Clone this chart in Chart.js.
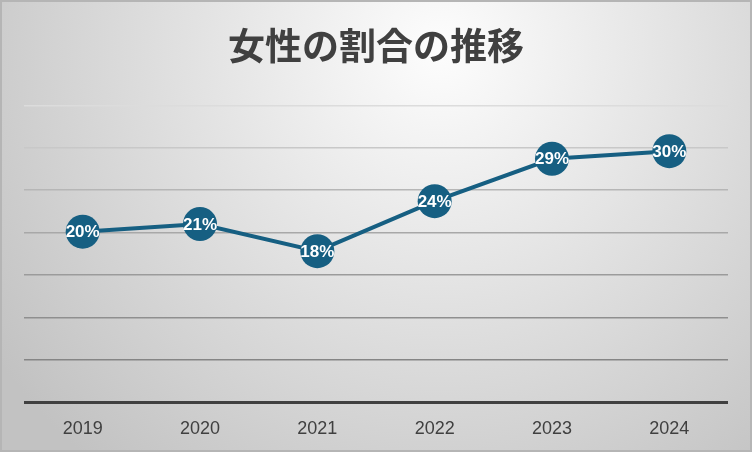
<!DOCTYPE html>
<html>
<head>
<meta charset="utf-8">
<script src="https://cdn.jsdelivr.net/npm/chart.js@4/dist/chart.umd.min.js"></script>
<style>
  html, body { margin: 0; padding: 0; background: #fff; }
  canvas { display: block; }
</style>
</head>
<body>
<canvas id="chart" width="752" height="452"></canvas>
<script>
/* ===== DATA ===== */
const years = ['2019', '2020', '2021', '2022', '2023', '2024'];
const shareOfWomen = [0.201, 0.210, 0.178, 0.237, 0.287, 0.296];
const chartTitle = '女性の割合の推移';

const lineColor = '#165f82';
const textColor = '#404040';

// gridline shades, lighter towards the top (index = tick index from 0%)
const gridShades = ['#404040', '#858585', '#8f8f8f', '#9b9b9b', '#a8a8a8', '#b6b6b6', '#c8c8c8', '#dcdcdc'];

/* ===== PLUGINS ===== */
const backdrop = {
  id: 'backdrop',
  beforeDraw(chart) {
    const { ctx, width, height } = chart;
    ctx.save();
    const g = ctx.createRadialGradient(440, 50, 0, 440, 50, 540);
    g.addColorStop(0, '#fdfdfd');
    g.addColorStop(1, '#c2c2c2');
    ctx.fillStyle = g;
    ctx.fillRect(0, 0, width, height);
    ctx.strokeStyle = '#b5b5b5';
    ctx.lineWidth = 2;
    ctx.strokeRect(1, 1, width - 2, height - 2);
    ctx.restore();
  }
};

const pointLabels = {
  id: 'pointLabels',
  afterDatasetsDraw(chart) {
    const { ctx } = chart;
    const meta = chart.getDatasetMeta(0);
    const values = chart.data.datasets[0].data;
    ctx.save();
    ctx.font = 'bold 17px "Liberation Sans", Arial, sans-serif';
    ctx.fillStyle = '#ffffff';
    ctx.textAlign = 'center';
    ctx.textBaseline = 'middle';
    meta.data.forEach((pt, i) => {
      ctx.fillText(Math.round(values[i] * 100) + '%', pt.x, pt.y + 1);
    });
    ctx.restore();
  }
};

/* ===== CHART ===== */
new Chart(document.getElementById('chart'), {
  type: 'line',
  data: {
    labels: years,
    datasets: [{
      data: shareOfWomen,
      borderColor: lineColor,
      borderWidth: 4,
      backgroundColor: lineColor,
      pointBackgroundColor: lineColor,
      pointBorderWidth: 0,
      pointRadius: 17,
      pointHoverRadius: 17,
      tension: 0
    }]
  },
  options: {
    responsive: false,
    animation: false,
    devicePixelRatio: 1,
    layout: { padding: { top: 24, left: 24, right: 24, bottom: 14 } },
    plugins: {
      legend: { display: false },
      tooltip: { enabled: false },
      title: {
        display: true,
        text: chartTitle,
        color: textColor,
        font: { family: '"Noto Sans CJK JP", sans-serif', size: 37, weight: 'bold', lineHeight: 1.2 },
        padding: { top: 0, bottom: 37 }
      }
    },
    scales: {
      x: {
        offset: true,
        afterFit: (scale) => { scale.height = 36; },
        grid: { display: false, drawTicks: false },
        border: { display: false },
        ticks: {
          color: textColor,
          padding: 16,
          font: { family: '"Liberation Sans", Arial, sans-serif', size: 18 }
        }
      },
      y: {
        min: 0,
        max: 0.35,
        grid: {
          drawTicks: false,
          color: (c) => gridShades[c.index] || '#cccccc',
          lineWidth: (c) => c.index === 0 ? 3 : 1.5
        },
        border: { display: false },
        ticks: { display: false, stepSize: 0.05 }
      }
    }
  },
  plugins: [backdrop, pointLabels]
});
</script>
</body>
</html>
